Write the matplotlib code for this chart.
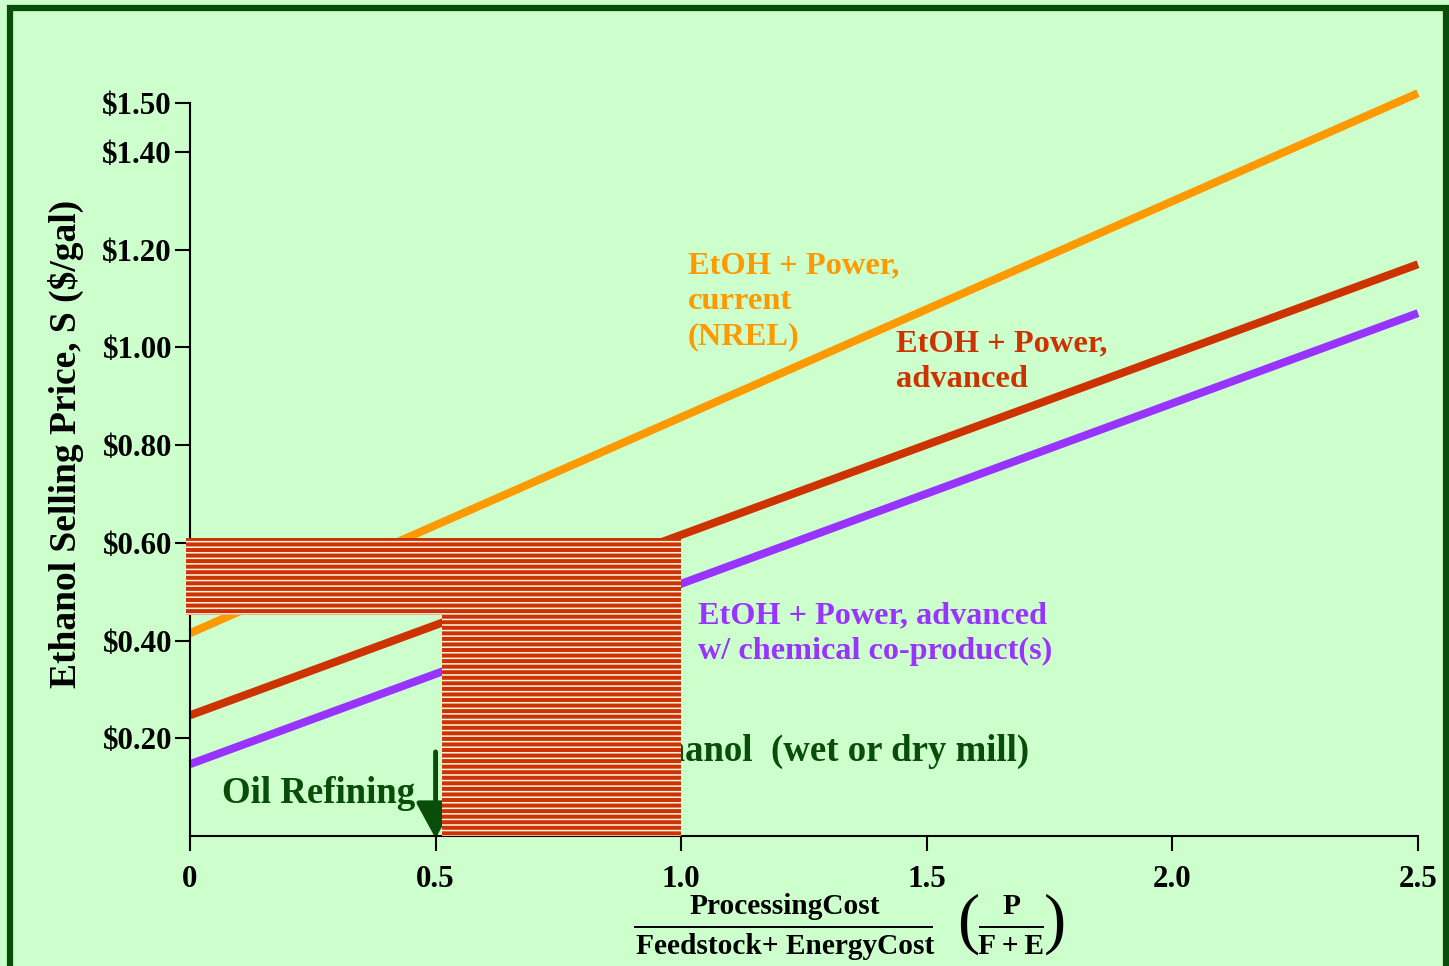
import numpy as np
import matplotlib
matplotlib.use("Agg")
import matplotlib.pyplot as plt
from matplotlib.patches import Rectangle
from matplotlib.lines import Line2D

plt.rcParams['font.family'] = ['Liberation Serif', 'DejaVu Serif']
plt.rcParams['font.weight'] = 'bold'
plt.rcParams['hatch.linewidth'] = 1.1

# data
x_ends = [0.0, 2.5]
orange_y = [0.415, 1.52]   # EtOH + Power, current (NREL)
red_y = [0.247, 1.170]     # EtOH + Power, advanced
purple_y = [0.147, 1.070]  # advanced w/ chemical co-product(s)

# hatched band (corn ethanol range)
band_x = [-0.008, 1.0]
band_lo, band_hi = 0.452, 0.610
block_x = [0.513, 1.0]
block_lo, block_hi = 0.0, 0.452

oil_x = 0.5
corn_x = 0.585
arrow_top = 0.172

y_ticks = [0.2, 0.4, 0.6, 0.8, 1.0, 1.2, 1.4, 1.5]
y_labels = ['\\$0.20', '\\$0.40', '\\$0.60', '\\$0.80', '\\$1.00', '\\$1.20', '\\$1.40', '\\$1.50']
x_ticks = [0, 0.5, 1.0, 1.5, 2.0, 2.5]
x_labels = ['0', '0.5', '1.0', '1.5', '2.0', '2.5']

bg = '#ccffcc'
dkgreen = '#084d08'
W, H = 1449, 966


def fx(px):
    return px / W


def fy(py):
    return 1 - py / H


fig = plt.figure(figsize=(W / 100, H / 100), dpi=100, facecolor=bg)
ax = fig.add_axes([fx(190), fy(836), fx(1418) - fx(190), fy(103) - fy(836)])
ax.set_facecolor(bg)

ax.plot(x_ends, orange_y, color='#ff9900', lw=5.8, solid_capstyle='butt', clip_on=False, zorder=2)
ax.plot(x_ends, red_y, color='#cc3300', lw=5.8, solid_capstyle='butt', clip_on=False, zorder=2)
ax.plot(x_ends, purple_y, color='#9933ff', lw=5.8, solid_capstyle='butt', clip_on=False, zorder=2)

ax.text(0.612, 0.174, 'Corn \u2192 Ethanol  (wet or dry mill)', color=dkgreen, fontsize=26.5,
        va='center', ha='left', zorder=2)
ax.annotate('', xy=(corn_x, -0.005), xytext=(corn_x, arrow_top),
            arrowprops=dict(arrowstyle='-|>,head_length=1.1,head_width=0.6', mutation_scale=20,
                            color=dkgreen, lw=2.5, shrinkA=0, shrinkB=0),
            zorder=2, annotation_clip=False)

ax.fill_between(band_x, band_lo, band_hi, facecolor='#cc3300', edgecolor='#fff6e6',
                hatch='---', lw=0, zorder=3, clip_on=False)
ax.fill_between(block_x, block_lo, block_hi, facecolor='#cc3300', edgecolor='#fff6e6',
                hatch='---', lw=0, zorder=3)

ax.annotate('', xy=(oil_x, -0.005), xytext=(oil_x, arrow_top),
            arrowprops=dict(arrowstyle='-|>,head_length=1.1,head_width=0.6', mutation_scale=20,
                            color=dkgreen, lw=3.5, shrinkA=0, shrinkB=0),
            zorder=2.5, annotation_clip=False)
ax.text(0.065, 0.086, 'Oil Refining', color=dkgreen, fontsize=26.6, va='center', ha='left', zorder=4)

ax.text(1.014, 1.094, 'EtOH + Power,\ncurrent\n(NREL)', color='#ff9900', fontsize=23.4,
        va='center', ha='left', linespacing=1.3)
ax.text(1.437, 0.970, 'EtOH + Power,\nadvanced', color='#cc3300', fontsize=23.4,
        va='center', ha='left', linespacing=1.3)
ax.text(1.034, 0.414, 'EtOH + Power, advanced\nw/ chemical co-product(s)', color='#9933ff',
        fontsize=23.2, va='center', ha='left', linespacing=1.3)

ax.set_xlim(0, 2.5)
ax.set_ylim(0, 1.5)
ax.set_yticks(y_ticks)
ax.set_yticklabels(y_labels)
ax.set_xticks(x_ticks)
ax.set_xticklabels(x_labels)
ax.tick_params(axis='y', direction='out', length=11, width=1.5, pad=2, labelsize=22.3)
ax.tick_params(axis='x', direction='out', length=11, width=1.5, pad=10, labelsize=22.3)
for s in ['top', 'right']:
    ax.spines[s].set_visible(False)
for s in ['left', 'bottom']:
    ax.spines[s].set_linewidth(1.5)

fig.text(fx(66), fy(444), 'Ethanol Selling Price, S (\\$/gal)', rotation=90, fontsize=27,
         ha='center', va='center')

# x label as fraction
fig.text(fx(785), fy(907), 'ProcessingCost', fontsize=21.2, ha='center', va='center')
fig.text(fx(785), fy(946), 'Feedstock+ EnergyCost', fontsize=21.2, ha='center', va='center')
fig.add_artist(Line2D([fx(635), fx(932)], [fy(927), fy(927)], color='black', lw=1.4))
fig.text(fx(1011), fy(907), 'P', fontsize=21.2, ha='center', va='center')
fig.text(fx(1011), fy(946), 'F\u2009+\u2009E', fontsize=21.2, ha='center', va='center')
fig.add_artist(Line2D([fx(980), fx(1043)], [fy(927), fy(927)], color='black', lw=1.4))
fig.text(fx(968), fy(924), '(', fontsize=48, fontweight='normal', ha='center', va='center')
fig.text(fx(1055), fy(924), ')', fontsize=48, fontweight='normal', ha='center', va='center')

fig.patches.append(Rectangle((fx(10), -0.05), fx(1446) - fx(10), fy(8) + 0.05,
                             transform=fig.transFigure, fill=False, edgecolor=dkgreen, lw=4.5))

fig.savefig('out.png', dpi=100, facecolor=bg)
